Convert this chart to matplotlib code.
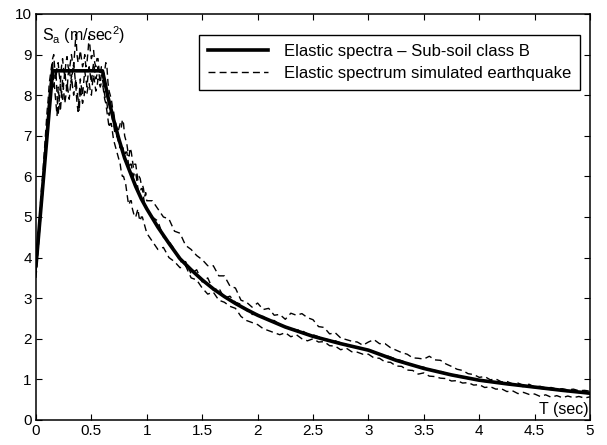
import numpy as np
import matplotlib
matplotlib.use('Agg')
import matplotlib.pyplot as plt

plt.rcParams['font.family'] = ['Liberation Sans', 'DejaVu Sans']
plt.rcParams['mathtext.fontset'] = 'custom'
plt.rcParams['mathtext.rm'] = 'Liberation Sans'

# code spectrum (sub-soil class B)
T_ec8 = [0, 0.15, 0.6, 0.65, 0.7, 0.75, 0.8, 0.85, 0.9, 0.95,
         1.0, 1.1, 1.2, 1.3, 1.4, 1.5, 1.6, 1.7, 1.8, 1.9,
         2.0, 2.25, 2.5, 2.75, 3.0, 3.25, 3.5, 3.75, 4.0, 4.25,
         4.5, 4.75, 5.0]
Sa_ec8 = [3.8, 8.6, 8.6, 7.95, 7.4, 6.9, 6.45, 6.1, 5.75, 5.45,
          5.2, 4.75, 4.35, 3.97, 3.7, 3.45, 3.23, 3.04, 2.87, 2.72,
          2.58, 2.29, 2.06, 1.88, 1.72, 1.47, 1.27, 1.11, 0.98, 0.89,
          0.81, 0.73, 0.66]

# periods of the simulated spectra: 0..1 every 0.01, then 1.05..5 every 0.05
T_sim = np.round(np.concatenate([np.arange(0, 1.0001, 0.01), np.arange(1.05, 5.001, 0.05)]), 2)

Sa_sim1 = [3.7, 4.1, 4.5, 4.9, 5.3, 5.7, 6.0, 6.4, 6.8, 7.2,
           7.6, 7.9, 8.3, 8.5, 8.7, 8.9, 9.0, 8.6, 8.4, 8.7,
           8.8, 8.5, 8.3, 8.7, 8.9, 8.6, 8.5, 8.8, 8.95, 8.7,
           8.6, 8.8, 9.0, 8.8, 8.7, 9.1, 9.5, 9.0, 8.8, 8.9,
           9.1, 8.9, 8.7, 8.8, 9.0, 8.7, 8.8, 9.1, 9.45, 9.1,
           8.9, 9.0, 9.1, 8.8, 8.7, 8.9, 8.9, 8.6, 8.5, 8.7,
           8.7, 8.5, 8.6, 8.8, 8.7, 8.3, 8.1, 8.0, 7.9, 7.7,
           7.6, 7.4, 7.3, 7.2, 7.1, 7.2, 7.3, 7.2, 7.4, 7.3,
           7.0, 6.9, 6.8, 6.6, 6.5, 6.7, 6.6, 6.4, 6.2, 6.3,
           6.3, 6.1, 5.9, 6.0, 5.95, 5.8, 5.8, 5.7, 5.5, 5.6,
           5.4,
           5.4, 5.2, 5.0, 4.95, 4.65, 4.6, 4.3, 4.2, 4.05, 3.95,
           3.8, 3.8, 3.55, 3.55, 3.3, 3.25, 2.95, 2.9, 2.78, 2.88,
           2.72, 2.75, 2.58, 2.6, 2.48, 2.63, 2.58, 2.62, 2.52, 2.47,
           2.3, 2.28, 2.12, 2.15, 2.02, 1.98, 1.94, 1.92, 1.84, 1.92,
           1.98, 1.88, 1.88, 1.78, 1.72, 1.66, 1.62, 1.53, 1.52, 1.5,
           1.57, 1.48, 1.47, 1.38, 1.32, 1.25, 1.22, 1.14, 1.12, 1.05,
           1.07, 0.99, 1.01, 0.94, 0.95, 0.89, 0.91, 0.85, 0.88, 0.81,
           0.83, 0.79, 0.8, 0.76, 0.77, 0.74, 0.76, 0.72, 0.73, 0.71]

Sa_sim2 = [3.6, 4.0, 4.3, 4.7, 5.0, 5.4, 5.8, 6.2, 6.6, 7.0,
           7.3, 7.7, 8.0, 8.3, 8.5, 8.8, 8.2, 8.4, 8.6, 8.0,
           7.5, 7.9, 8.3, 8.0, 7.9, 8.3, 8.6, 8.3, 8.1, 8.5,
           8.7, 8.4, 8.3, 8.6, 8.8, 8.5, 8.2, 7.8, 7.6, 8.0,
           8.4, 8.2, 8.0, 8.3, 8.6, 8.4, 8.2, 8.5, 8.7, 8.5,
           8.3, 8.6, 8.8, 8.6, 8.4, 8.5, 8.7, 8.5, 8.3, 8.5,
           8.4, 8.2, 8.0, 7.9, 7.8, 7.6, 7.5, 7.6, 7.6, 7.4,
           7.3, 7.1, 7.0, 7.0, 6.9, 6.8, 6.7, 6.8, 6.8, 6.6,
           6.5, 6.6, 6.6, 6.4, 6.2, 6.3, 6.3, 6.1, 6.0, 6.1,
           6.1, 5.9, 5.7, 5.6, 5.6, 5.7, 5.7, 5.5, 5.3, 5.3,
           5.2,
           5.0, 4.9, 4.5, 4.4, 4.2, 3.9, 3.9, 3.6, 3.7, 3.4,
           3.5, 3.2, 3.25, 3.0, 3.05, 2.9, 2.85, 2.7, 2.6, 2.6,
           2.55, 2.45, 2.45, 2.35, 2.3, 2.25, 2.22, 2.2, 2.12, 2.1,
           2.05, 2.0, 1.97, 1.95, 1.9, 1.86, 1.8, 1.8, 1.75, 1.72,
           1.7, 1.62, 1.6, 1.55, 1.5, 1.46, 1.4, 1.36, 1.32, 1.3,
           1.25, 1.22, 1.2, 1.15, 1.12, 1.1, 1.05, 1.02, 1.0, 0.98,
           0.95, 0.95, 0.92, 0.9, 0.88, 0.86, 0.85, 0.82, 0.81, 0.8,
           0.78, 0.76, 0.75, 0.73, 0.72, 0.7, 0.69, 0.68, 0.66, 0.65]

Sa_sim3 = [3.5, 3.9, 4.2, 4.6, 4.9, 5.3, 5.6, 6.0, 6.3, 6.7,
           7.0, 7.4, 7.7, 7.9, 8.1, 8.3, 8.5, 8.1, 7.8, 7.5,
           8.2, 7.9, 7.6, 8.0, 8.4, 8.1, 7.8, 8.0, 8.3, 8.1,
           7.9, 8.2, 8.5, 8.2, 8.0, 8.2, 8.4, 8.1, 7.9, 7.6,
           8.2, 8.0, 7.8, 7.9, 8.1, 8.0, 8.05, 8.2, 8.3, 8.1,
           8.0, 8.3, 8.5, 8.3, 8.1, 8.2, 8.4, 8.3, 8.2, 8.3,
           8.3, 8.1, 7.9, 7.8, 7.6, 7.4, 7.2, 7.3, 7.3, 7.1,
           6.9, 6.8, 6.7, 6.6, 6.5, 6.4, 6.3, 6.1, 6.0, 6.0,
           5.9, 5.8, 5.6, 5.4, 5.3, 5.4, 5.4, 5.2, 5.1, 5.0,
           5.0, 5.1, 5.2, 5.0, 4.9, 5.0, 5.0, 4.9, 4.8, 4.7,
           4.6,
           4.4, 4.2, 4.25, 4.0, 3.9, 3.75, 3.8, 3.5, 3.45, 3.25,
           3.1, 3.15, 2.95, 2.9, 2.8, 2.75, 2.55, 2.45, 2.4, 2.35,
           2.25, 2.2, 2.15, 2.1, 2.15, 2.05, 2.1, 2.0, 1.95, 2.0,
           1.92, 1.93, 1.83, 1.82, 1.73, 1.77, 1.68, 1.67, 1.62, 1.62,
           1.53, 1.52, 1.43, 1.42, 1.33, 1.32, 1.23, 1.22, 1.13, 1.16,
           1.08, 1.07, 1.03, 1.02, 0.96, 0.97, 0.91, 0.92, 0.86, 0.87,
           0.8, 0.82, 0.76, 0.77, 0.7, 0.72, 0.65, 0.68, 0.63, 0.64,
           0.58, 0.62, 0.56, 0.6, 0.55, 0.59, 0.55, 0.58, 0.54, 0.57]

fig = plt.figure(figsize=(6.07, 4.45), dpi=100)
ax = fig.add_axes([0.0593, 0.0562, 0.9127, 0.9124])

ax.plot(T_ec8, Sa_ec8, color='k', lw=2.6, solid_joinstyle='round',
        label='Elastic spectra \u2013 Sub-soil class B')
dash = (0, (5, 3))
ax.plot(T_sim, Sa_sim1, color='k', lw=1.0, linestyle=dash,
        label='Elastic spectrum simulated earthquake')
ax.plot(T_sim, Sa_sim2, color='k', lw=1.0, linestyle=dash)
ax.plot(T_sim, Sa_sim3, color='k', lw=1.0, linestyle=dash)

ax.set_xlim(0, 5)
ax.set_ylim(0, 10)
ax.set_xticks(np.arange(0, 5.01, 0.5))
ax.set_xticklabels(['0', '0.5', '1', '1.5', '2', '2.5', '3', '3.5', '4', '4.5', '5'])
ax.set_yticks(range(0, 11))
ax.tick_params(direction='in', top=True, right=True, length=4, width=0.8,
               labelsize=11, pad=3)
for s in ax.spines.values():
    s.set_linewidth(1.1)

ax.text(0.05, 9.75, 'S$_\\mathregular{a}$ (m/sec$^\\mathregular{2}$)', fontsize=11.5, va='top')
ax.text(4.99, 0.08, 'T (sec)', fontsize=11.5, ha='right', va='bottom')

leg = ax.legend(loc='upper right', bbox_to_anchor=(0.982, 0.948), fontsize=12,
                handlelength=3.6, handletextpad=0.95, labelspacing=0.4,
                borderpad=0.55, borderaxespad=0, fancybox=False, framealpha=1)
leg.get_frame().set_edgecolor('k')
leg.get_frame().set_linewidth(1.0)

plt.savefig('out.png', dpi=100)
plt.close('all')
